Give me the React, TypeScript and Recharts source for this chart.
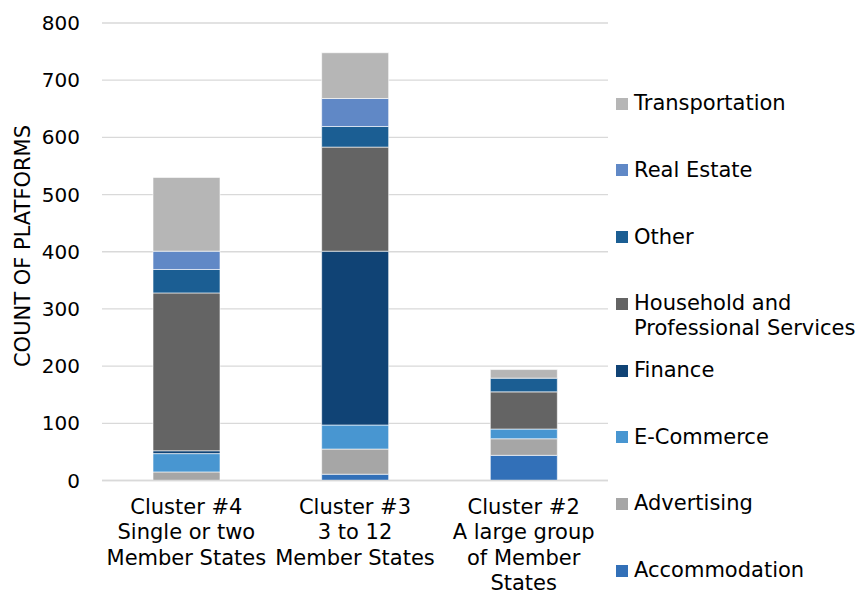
import React from 'react';
import { BarChart, Bar, XAxis, YAxis, CartesianGrid, Legend } from 'recharts';

const categories = [
  'Cluster #4\nSingle or two\nMember States',
  'Cluster #3\n3 to 12\nMember States',
  'Cluster #2\nA large group\nof Member\nStates',
];

const accommodation = [0, 11, 44];
const advertising = [15, 44, 29];
const eCommerce = [32, 42, 17];
const finance = [5, 304, 0];
const household = [276, 182, 65];
const other = [41, 36, 24];
const realEstate = [32, 49, 0];
const transportation = [129, 80, 15];

const yTicks = [0, 100, 200, 300, 400, 500, 600, 700, 800];

// bottom to top stacking order
const SERIES = [
  { key: 'accommodation', name: 'Accommodation', values: accommodation, color: '#3270b8' },
  { key: 'advertising', name: 'Advertising', values: advertising, color: '#a6a6a6' },
  { key: 'eCommerce', name: 'E-Commerce', values: eCommerce, color: '#4896d1' },
  { key: 'finance', name: 'Finance', values: finance, color: '#104375' },
  { key: 'household', name: 'Household and\nProfessional Services', values: household, color: '#646464' },
  { key: 'other', name: 'Other', values: other, color: '#1b5e93' },
  { key: 'realEstate', name: 'Real Estate', values: realEstate, color: '#6088c6' },
  { key: 'transportation', name: 'Transportation', values: transportation, color: '#b6b6b6' },
];

const data = categories.map((name, i) => {
  const row: any = { name };
  SERIES.forEach(s => { row[s.key] = s.values[i]; });
  return row;
});

const FONT = '"DejaVu Sans", Verdana, sans-serif';

const XTick = ({ x, y, payload }: any) => {
  const lines = String(payload.value).split('\n');
  return (
    <text x={x} y={y + 33.5} textAnchor="middle" fontSize={21} fontFamily={FONT} fill="#000">
      {lines.map((l, i) => (
        <tspan key={i} x={x} dy={i === 0 ? 0 : 25.3}>{l}</tspan>
      ))}
    </text>
  );
};

const LegendContent = () => (
  <div style={{ fontFamily: FONT, fontSize: 21, lineHeight: '25px', color: '#000' }}>
    {[...SERIES].reverse().map(s => (
      <div key={s.key} style={{ height: 66.7, display: 'flex', alignItems: 'flex-start' }}>
        <span style={{ width: 12, height: 12, background: s.color, marginTop: 6.5, marginRight: 6, flex: 'none' }} />
        <span style={{ whiteSpace: 'pre' }}>{s.name}</span>
      </div>
    ))}
  </div>
);

const App = () => (
  <div style={{ position: 'absolute', left: 0, top: 0, width: 862, height: 595, background: '#fff' }}>
    <BarChart
      width={862}
      height={595}
      data={data}
      margin={{ top: 23, right: 254, left: 0, bottom: 84.5 }}
      barSize={67}
    >
      <CartesianGrid vertical={false} stroke="#d9d9d9" strokeWidth={1.3} />
      <XAxis
        dataKey="name"
        height={30}
        axisLine={{ stroke: '#d9d9d9', strokeWidth: 1.3 }}
        tickLine={false}
        tickSize={0}
        tickMargin={0}
        interval={0}
        tick={<XTick />}
      />
      <YAxis
        width={102}
        domain={[0, 800]}
        ticks={yTicks}
        axisLine={false}
        tickLine={false}
        tickSize={0}
        tickMargin={22}
        tick={{ fontSize: 20, fontFamily: FONT, fill: '#000' }}
        label={(props: any) => (
          <text
            x={23}
            y={246}
            transform="rotate(-90, 23, 246)"
            textAnchor="middle"
            dominantBaseline="central"
            fontSize={21}
            fontFamily={FONT}
            fill="#000"
          >
            COUNT OF PLATFORMS
          </text>
        )}
      />
      <Legend
        layout="vertical"
        align="center"
        verticalAlign="middle"
        wrapperStyle={{ left: 616, top: 91.3, width: 246 }}
        content={<LegendContent />}
      />
      {SERIES.map(s => (
        <Bar
          key={s.key}
          dataKey={s.key}
          name={s.name}
          stackId="a"
          fill={s.color}
          stroke="#ffffff"
          strokeWidth={0.6}
          isAnimationActive={false}
        />
      ))}
    </BarChart>
  </div>
);

export default App;
